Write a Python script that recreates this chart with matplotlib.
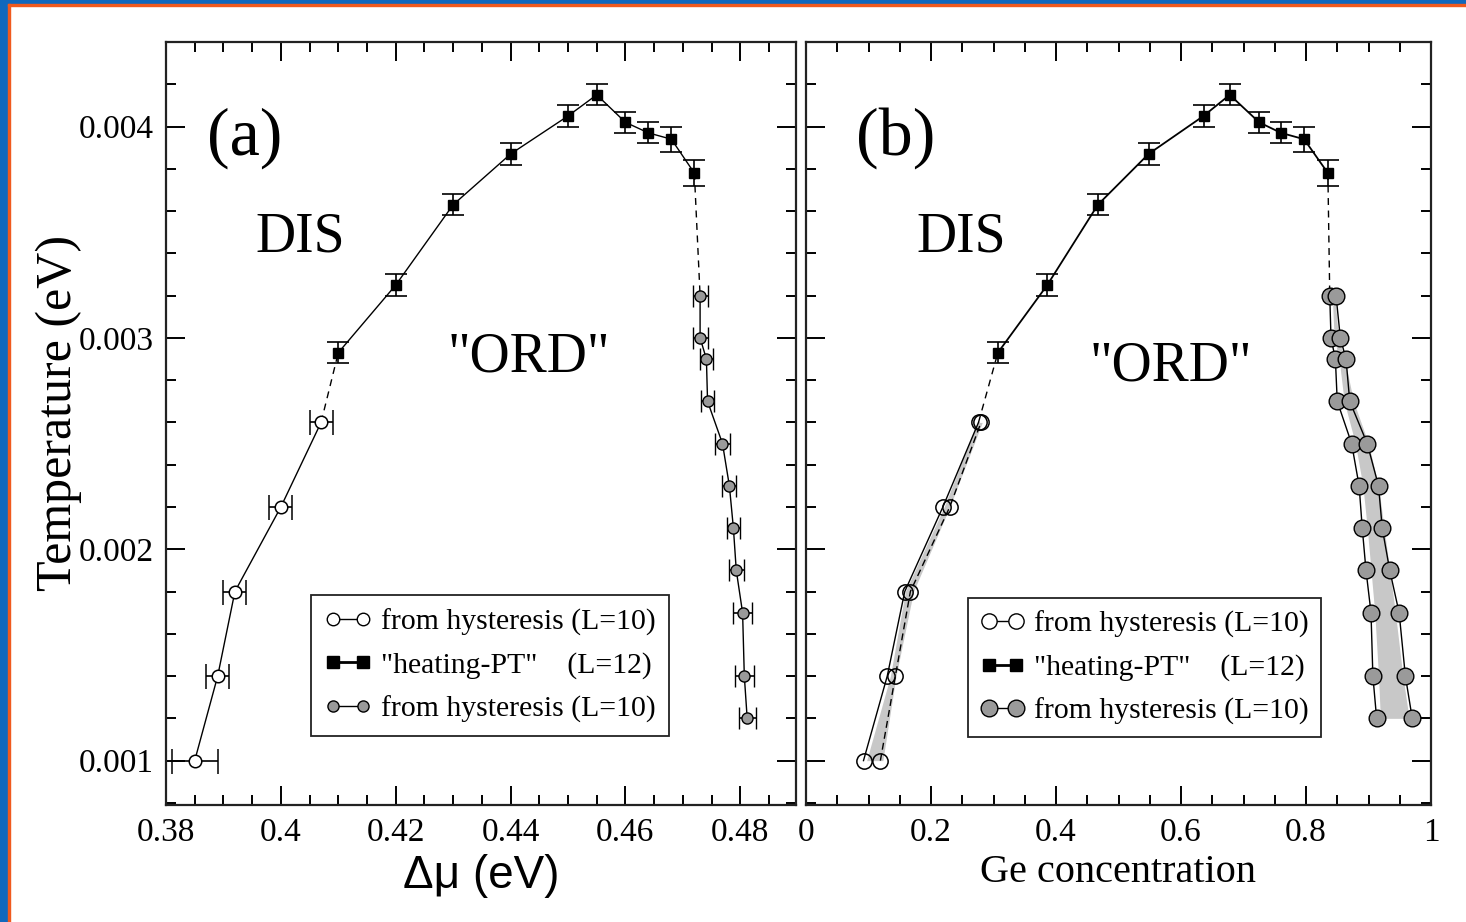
#!/usr/bin/env python3
"""Phase diagram: T vs chemical potential (a) and vs Ge concentration (b)."""
import matplotlib
matplotlib.use('Agg')
import matplotlib.pyplot as plt
from matplotlib.lines import Line2D
from matplotlib.patches import Rectangle

plt.rcParams['font.family'] = ['Liberation Serif', 'DejaVu Serif']

# ---- panel (a): temperature vs delta mu ----
dmu_sq = [0.410, 0.420, 0.430, 0.440, 0.450, 0.455, 0.460, 0.464, 0.468, 0.472]
T_sq = [0.00293, 0.00325, 0.00363, 0.00387, 0.00405, 0.00415, 0.00402, 0.00397, 0.00394, 0.00378]
T_sq_err = [0.00005, 0.00005, 0.00005, 0.00005, 0.00005, 0.00005, 0.00005, 0.00005, 0.00006, 0.00006]

dmu_open = [0.385, 0.389, 0.392, 0.400, 0.407]
T_open = [0.0010, 0.0014, 0.0018, 0.0022, 0.0026]
dmu_open_err = [0.004, 0.002, 0.002, 0.002, 0.002]

dmu_hatch = [0.4730, 0.4730, 0.4741, 0.4743, 0.4769, 0.4781, 0.4788, 0.4793, 0.4804, 0.4807, 0.4812]
T_hatch = [0.0032, 0.0030, 0.0029, 0.0027, 0.0025, 0.0023, 0.0021, 0.0019, 0.0017, 0.0014, 0.0012]
dmu_hatch_err = [0.0013, 0.0013, 0.0012, 0.0012, 0.0013, 0.0012, 0.0012, 0.0013, 0.0017, 0.0016, 0.0015]

# ---- panel (b): temperature vs Ge concentration ----
ge_sq = [0.307, 0.386, 0.467, 0.548, 0.636, 0.678, 0.725, 0.760, 0.797, 0.835]

ge_open_lo = [0.092, 0.130, 0.158, 0.219, 0.276]
ge_open_hi = [0.119, 0.143, 0.167, 0.230, 0.280]
band_open_lo = [0.097, 0.135, 0.159, 0.221, 0.274]
band_open_hi = [0.123, 0.144, 0.172, 0.230, 0.282]

ge_hatch_lo = [0.838, 0.840, 0.847, 0.850, 0.873, 0.885, 0.890, 0.896, 0.904, 0.907, 0.913]
ge_hatch_hi = [0.848, 0.855, 0.864, 0.870, 0.898, 0.916, 0.922, 0.934, 0.949, 0.959, 0.970]
band_hatch_lo = [0.842, 0.845, 0.853, 0.861, 0.879, 0.891, 0.898, 0.904, 0.910, 0.916, 0.919]
band_hatch_hi = [0.846, 0.852, 0.862, 0.876, 0.900, 0.916, 0.925, 0.934, 0.943, 0.955, 0.965]

legend_labels = ['from hysteresis (L=10)', '"heating-PT"    (L=12)', 'from hysteresis (L=10)']

HATCH = '#9a9a9a'
BAND = '#c8c8c8'
W, H = 1466, 922

fig = plt.figure(figsize=(W / 100, H / 100), dpi=100)
fig.patch.set_facecolor('white')

# slide frame: blue band with orange rule on left and top
fig.patches.append(Rectangle((0, 0), 8 / W, 1, transform=fig.transFigure, color='#1068bd', zorder=0))
fig.patches.append(Rectangle((0, 1 - 4 / H), 1, 4 / H, transform=fig.transFigure, color='#1068bd', zorder=0))
fig.patches.append(Rectangle((8 / W, 0), 2 / W, 1 - 4 / H, transform=fig.transFigure, color='#f05a1e', zorder=0))
fig.patches.append(Rectangle((8 / W, 1 - 6 / H), 1 - 8 / W, 2 / H, transform=fig.transFigure, color='#f05a1e', zorder=0))

ax_a = fig.add_axes([166 / W, 1 - 805 / H, 630 / W, 763 / H])
ax_b = fig.add_axes([806 / W, 1 - 805 / H, 625 / W, 763 / H])

for ax in (ax_a, ax_b):
    ax.set_ylim(0.00079, 0.0044)
    ax.set_yticks([0.001, 0.002, 0.003, 0.004])
    ax.set_yticks([0.0008 + 0.0002 * i for i in range(19)], minor=True)
    ax.tick_params(which='both', direction='in', top=True, right=True, width=1.4,
                   labelsize=24, pad=9)
    ax.tick_params(which='major', length=14)
    ax.tick_params(which='minor', length=7)
    for sp in ax.spines.values():
        sp.set_linewidth(1.6)
        sp.set_color('#222222')

# ---- panel (a) ----
ax = ax_a
ax.set_xlim(0.38, 0.4897)
ax.set_xticks([0.38, 0.40, 0.42, 0.44, 0.46, 0.48])
ax.set_xticklabels(['0.38', '0.4', '0.42', '0.44', '0.46', '0.48'])
ax.set_xticks([0.38 + 0.005 * i for i in range(22)], minor=True)
ax.set_yticklabels(['0.001', '0.002', '0.003', '0.004'])

ax.plot([dmu_open[-1], dmu_sq[0]], [T_open[-1], T_sq[0]], '--', color='black', lw=1, dashes=(5, 4))
ax.plot([dmu_sq[-1], dmu_hatch[0]], [T_sq[-1], T_hatch[0]], '--', color='black', lw=1, dashes=(5, 4))
ax.errorbar(dmu_open, T_open, xerr=dmu_open_err, fmt='-o', color='black', lw=1, elinewidth=1.2,
            capsize=9, capthick=1.2, ms=9, mfc='white', mec='black', mew=1.1)
ax.errorbar(dmu_sq, T_sq, yerr=T_sq_err, fmt='-s', color='black', lw=1, elinewidth=1.2,
            capsize=8, capthick=1.2, ms=7, mfc='black', mec='black')
ax.errorbar(dmu_hatch, T_hatch, xerr=dmu_hatch_err, fmt='-o', color='black', lw=1, elinewidth=1.2,
            capsize=8, capthick=1.2, ms=8, mfc=HATCH, mec='black', mew=1)

ax.text(245 / W, 1 - 138 / H, '(a)', transform=fig.transFigure, fontsize=49, ha='center', va='center')
ax.text(300 / W, 1 - 237 / H, 'DIS', transform=fig.transFigure, fontsize=40, ha='center', va='center')
ax.text(529 / W, 1 - 357 / H, '"ORD"', transform=fig.transFigure, fontsize=40, ha='center', va='center')

ax.set_xlabel('Δμ (eV)', fontsize=33, family=['Liberation Sans Narrow', 'Liberation Sans'], labelpad=4)
ax.set_ylabel('Temperature (eV)', fontsize=36)
ax.yaxis.set_label_coords(-0.134, 0.514)

handles_a = [
    Line2D([], [], color='black', lw=1, marker='o', ms=9, mfc='white', mec='black'),
    Line2D([], [], color='black', lw=2, marker='s', ms=8, mfc='black', mec='black'),
    Line2D([], [], color='black', lw=1, marker='o', ms=8, mfc=HATCH, mec='black'),
]
leg = ax.legend(handles_a, legend_labels, loc='upper left', bbox_to_anchor=(311 / W, 1 - 595 / H),
                bbox_transform=fig.transFigure, fontsize=21.4, numpoints=2, handlelength=1.6,
                handletextpad=0.3, labelspacing=0.55, borderpad=0.45, borderaxespad=0,
                fancybox=False, framealpha=1, edgecolor='#222222')
leg.get_frame().set_linewidth(1.3)

# ---- panel (b) ----
ax = ax_b
ax.set_xlim(0, 1)
ax.set_xticks([0, 0.2, 0.4, 0.6, 0.8, 1.0])
ax.set_xticklabels(['0', '0.2', '0.4', '0.6', '0.8', '1'])
ax.set_xticks([0.05 * i for i in range(21)], minor=True)
ax.set_yticklabels([])

ax.fill_betweenx(T_open, band_open_lo, band_open_hi, color=BAND, lw=0, zorder=1)
ax.fill_betweenx(T_hatch, band_hatch_lo, band_hatch_hi, color=BAND, lw=0, zorder=1)
ax.plot([ge_open_lo[-1], ge_sq[0]], [T_open[-1], T_sq[0]], '--', color='black', lw=1, dashes=(5, 4))
ax.plot([ge_sq[-1], ge_hatch_lo[0]], [T_sq[-1], T_hatch[0]], '--', color='black', lw=1, dashes=(5, 4))
ax.plot(ge_open_lo, T_open, '-', color='black', lw=1, zorder=2)
ax.plot(ge_open_hi, T_open, '--', color='black', lw=1, dashes=(5, 3), zorder=2)
ax.plot(ge_hatch_lo, T_hatch, '-', color='black', lw=1, zorder=2)
ax.plot(ge_hatch_hi, T_hatch, '-', color='black', lw=1, zorder=2)
ax.plot(ge_open_lo + ge_open_hi, T_open + T_open, 'o', ms=11, mfc='none', mec='black', mew=1.1, zorder=3)
ax.plot(ge_hatch_lo + ge_hatch_hi, T_hatch + T_hatch, 'o', ms=12, mfc=HATCH, mec='black', mew=1, zorder=3)
ax.errorbar(ge_sq, T_sq, yerr=T_sq_err, fmt='-s', color='black', lw=1.3, elinewidth=1.2,
            capsize=8, capthick=1.2, ms=7, mfc='black', mec='black', zorder=4)

ax.text(896 / W, 1 - 138 / H, '(b)', transform=fig.transFigure, fontsize=49, ha='center', va='center')
ax.text(961 / W, 1 - 237 / H, 'DIS', transform=fig.transFigure, fontsize=40, ha='center', va='center')
ax.text(1171 / W, 1 - 366 / H, '"ORD"', transform=fig.transFigure, fontsize=40, ha='center', va='center')

ax.set_xlabel('Ge concentration', fontsize=29, labelpad=4)

handles_b = [
    Line2D([], [], color='black', lw=1, marker='o', ms=11, mfc='white', mec='black'),
    Line2D([], [], color='black', lw=2, marker='s', ms=8, mfc='black', mec='black'),
    Line2D([], [], color='black', lw=1, marker='o', ms=12, mfc=HATCH, mec='black'),
]
leg = ax.legend(handles_b, legend_labels, loc='upper left', bbox_to_anchor=(968 / W, 1 - 598 / H),
                bbox_transform=fig.transFigure, fontsize=21.4, numpoints=2, handlelength=1.5,
                handletextpad=0.3, labelspacing=0.55, borderpad=0.42, borderaxespad=0,
                fancybox=False, framealpha=1, edgecolor='#222222')
leg.get_frame().set_linewidth(1.3)

fig.savefig('out.png', dpi=100, facecolor='white')
